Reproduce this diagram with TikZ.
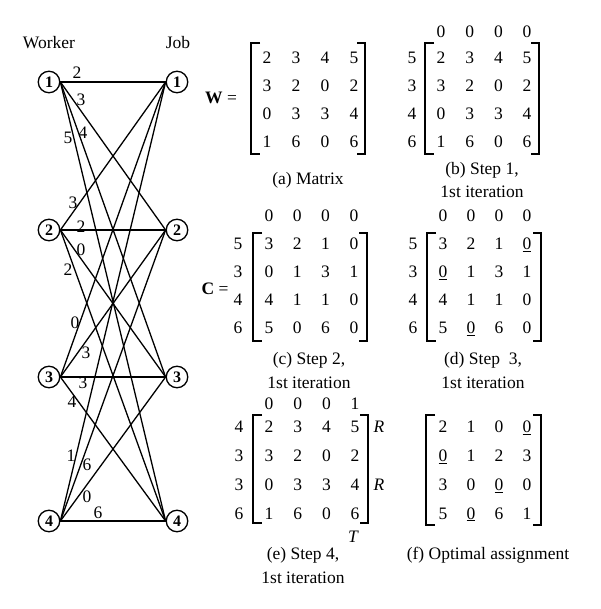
\documentclass[tikz,border=0pt]{standalone}
\usepackage{fontspec}
\setmainfont{Liberation Serif}
\newcommand\mybrackets[4]{%
  \draw[brk] ({#1+9},#3) -- (#1,#3) -- (#1,#4) -- ({#1+9},#4);
  \draw[brk] ({#2-8},#3) -- (#2,#3) -- (#2,#4) -- ({#2-8},#4);}
\newcommand\mentries[6]{%
  \foreach \row [count=\i] in {#6} {
    \foreach \v [count=\j] in \row {
      \node[num] (#1-\i-\j) at ({#2+#4*(\j-1)},{#3+#5*(\i-1)+5.9}) {\v};
    }
  }}
\begin{document}
\begin{tikzpicture}[x=1pt,y=-1pt,
  txt/.style={font=\fontsize{17.5}{20}\selectfont, inner sep=0pt},
  num/.style={font=\fontsize{17.5}{20}\selectfont, inner sep=0pt, anchor=base},
  vtx/.style={circle, draw, line width=1.3pt, minimum size=21.5pt, inner sep=0pt, font=\fontsize{16}{18}\selectfont\bfseries},
  edge/.style={line width=1.3pt},
  brk/.style={line width=1.4pt}]
\useasboundingbox (0,0) rectangle (600,609);

% bipartite graph
\node[txt] (hw) at (49,43) {Worker};
\node[txt] (hj) at (178,43) {Job};
\foreach \i/\y in {1/82,2/230,3/377,4/521} {
  \node[vtx] (w\i) at (49,\y) {\i};
  \node[vtx] (j\i) at (177,\y) {\i};
}
\foreach \i in {1,...,4} {
  \foreach \j in {1,...,4} {
    \draw[edge] (w\i.east) -- (j\j.west);
  }
}
\foreach \n/\x/\y/\t in {a/77/73/2, b/81/100/3, c/83/133/4, d/68/138/5,
  e/73/203/3, f/81/227/2, g/81/250/0, h/68/270/2,
  i/75/323/0, k/86/353/3, l/83/383/3, m/72/402/4,
  n/71/456/1, o/87/465/6, p/87/497/0, q/98/513/6} {
  \node[txt] (lab\n) at (\x,\y) {\t};
}

% (a)
\node[txt] (Weq) at (221,98) {\textbf{W} =};
\mentries{A}{267}{58}{29}{28}{{2,3,4,5},{3,2,0,2},{0,3,3,4},{1,6,0,6}}
\mybrackets{251}{365}{43}{154}
\node[txt] (capa) at (308,180) {(a) Matrix};

% (b)
\mentries{B}{441}{58}{28.7}{28}{{2,3,4,5},{3,2,0,2},{0,3,3,4},{1,6,0,6}}
\mentries{Bt}{441}{32}{28.7}{0}{{0,0,0,0}}
\mentries{Bl}{412}{58}{0}{28}{{5},{3},{4},{6}}
\mybrackets{425}{539}{43}{154}
\node[txt] (capb1) at (482,170) {(b) Step 1,};
\node[txt] (capb2) at (482,192) {1st iteration};

% (c)
\node[txt] (Ceq) at (215,289) {\textbf{C} =};
\mentries{C}{269}{244}{28.3}{28}{{3,2,1,0},{0,1,3,1},{4,1,1,0},{5,0,6,0}}
\mentries{Ct}{269}{216}{28.3}{0}{{0,0,0,0}}
\mentries{Cl}{238}{244}{0}{28}{{5},{3},{4},{6}}
\mybrackets{253}{367}{233}{341}
\node[txt] (capc1) at (309,360) {(c) Step 2,};
\node[txt] (capc2) at (309,383) {1st iteration};

% (d)
\mentries{D}{443}{244}{28}{28}{{3,2,1,\underline{0}},{\underline{0},1,3,1},{4,1,1,0},{5,\underline{0},6,0}}
\mentries{Dt}{443}{216}{28}{0}{{0,0,0,0}}
\mentries{Dl}{413}{244}{0}{28}{{5},{3},{4},{6}}
\mybrackets{427}{541}{233}{341}
\node[txt] (capd1) at (483,360) {(d) Step\ \ 3,};
\node[txt] (capd2) at (483,383) {1st iteration};

% (e)
\mentries{E}{269}{427}{28.7}{28.7}{{2,3,4,5},{3,2,0,2},{0,3,3,4},{1,6,0,6}}
\mentries{Et}{269}{404}{28.7}{0}{{0,0,0,1}}
\mentries{El}{239}{427}{0}{28.7}{{4},{3},{3},{6}}
\mybrackets{253}{368}{415}{523}
\node[txt] (R1) at (379,427) {\itshape R};
\node[txt] (R2) at (379,485) {\itshape R};
\node[txt] (T1) at (353,537) {\itshape T};
\node[txt] (cape1) at (303,555) {(e) Step 4,};
\node[txt] (cape2) at (303,578) {1st iteration};

% (f)
\mentries{F}{443}{427}{28}{28.7}{{2,1,0,\underline{0}},{\underline{0},1,2,3},{3,0,\underline{0},0},{5,\underline{0},6,1}}
\mybrackets{426}{541}{415}{525}
\node[txt] (capf) at (488,555) {(f) Optimal assignment};
\end{tikzpicture}
\end{document}
